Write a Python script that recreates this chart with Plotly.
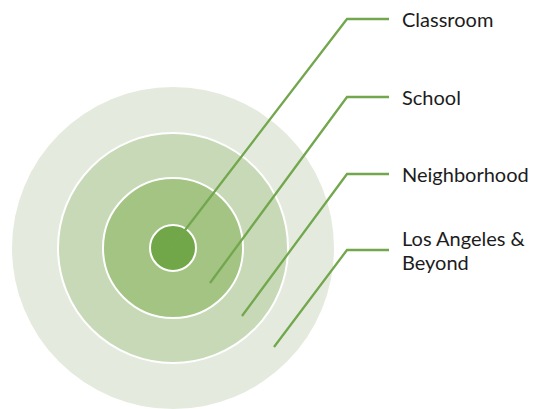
import plotly.graph_objects as go

# ---- data ----
labels = ["Classroom", "School", "Neighborhood", "Los Angeles &<br>Beyond"]
ring_radius = [161, 115, 70, 23]          # outer -> inner ring radius (px units)
ring_colors = ["#e4ebde", "#c7d9b6", "#a3c483", "#72a749"]

# leader lines: start point inside ring, label row y
leader_start_x = [172, 210, 242, 274]
leader_start_y = [247, 283, 316, 347]
label_y = [19, 97, 174, 250]

# ---- layout constants ----
W, H = 540, 409
PAGE_MARGIN = 8            # default body margin of the html page
CX, CY = 173, 248
KINK_X, END_X, TEXT_X = 347, 389, 400
LINE_COLOR = "#72a74d"
LINE_GAP = 24

fig = go.Figure()

shapes = []
for i, (r, c) in enumerate(zip(ring_radius, ring_colors)):
    shapes.append(dict(
        type="circle", xref="x", yref="y",
        x0=CX - r, x1=CX + r, y0=CY - r, y1=CY + r,
        fillcolor=c,
        line=dict(color="white", width=0 if i == 0 else 2),
        layer="below",
    ))

for lab, sx, sy, ly in zip(labels, leader_start_x, leader_start_y, label_y):
    fig.add_trace(go.Scatter(
        x=[sx, KINK_X, END_X], y=[sy, ly, ly],
        mode="lines", line=dict(color=LINE_COLOR, width=2.3),
        hoverinfo="skip", showlegend=False,
    ))

annotations = []
for lab, ly in zip(labels, label_y):
    parts = lab.split("<br>")
    n = len(parts)
    for k, p in enumerate(parts):
        annotations.append(dict(
            x=TEXT_X, y=ly + (k - (n - 1) / 2) * LINE_GAP,
            xref="x", yref="y", text=p, showarrow=False,
            xanchor="left", yanchor="middle", align="left",
            font=dict(family="Lato", size=20, color="#1c1c1c"),
        ))

fig.update_layout(
    width=W - PAGE_MARGIN, height=H - PAGE_MARGIN,
    margin=dict(l=0, r=0, t=0, b=0),
    paper_bgcolor="white", plot_bgcolor="white",
    xaxis=dict(range=[PAGE_MARGIN, W], visible=False, fixedrange=True),
    yaxis=dict(range=[H, PAGE_MARGIN], visible=False, fixedrange=True),
    shapes=shapes, annotations=annotations,
    showlegend=False,
)

fig.write_html("out.html")
